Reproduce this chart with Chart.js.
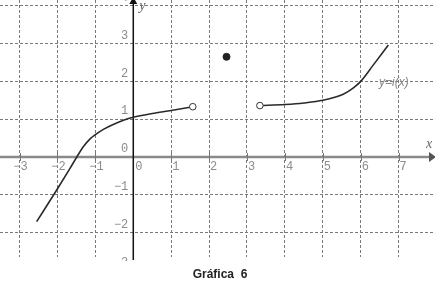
<!DOCTYPE html>
<html>
<head>
<meta charset="utf-8">
<script src="https://cdn.jsdelivr.net/npm/chart.js@4.4.0/dist/chart.umd.min.js"></script>
<style>
html,body{margin:0;padding:0;background:#fff;}
canvas{display:block;}
</style>
</head>
<body>
<canvas id="c" width="435" height="291"></canvas>
<script>
// ---- data ----
const leftX  = [-2.55, -2.0, -1.67, -1.49, -1.32, -1.14, -1.0, -0.79, -0.53, -0.26, 0, 0.5, 1.0, 1.57];
const leftY  = [-1.71, -0.84, -0.3, 0, 0.27, 0.48, 0.59, 0.73, 0.86, 0.97, 1.05, 1.15, 1.23, 1.33];
const rightX = [3.34, 4.0, 4.5, 5.0, 5.54, 5.8, 6.0, 6.33, 6.73];
const rightY = [1.36, 1.39, 1.43, 1.5, 1.66, 1.82, 2.0, 2.43, 2.96];
const openX  = [1.57, 3.34];
const openY  = [1.33, 1.36];
const solidX = [2.46];
const solidY = [2.65];
const xTicks = [-3, -2, -1, 0, 1, 2, 3, 4, 5, 6, 7];
const yTicks = [-3, -2, -1, 0, 1, 2, 3, 4];
const xTickLabels = ['−3', '−2', '−1', '0', '1', '2', '3', '4', '5', '6', '7'];
const yTickLabels = ['−3', '−2', '−1', '0', '1', '2', '3', '4'];
const curveLabel = 'y=i(x)';
const titleText = 'Gráfica  6';

const pts = (xs, ys) => xs.map((x, i) => ({x: x, y: ys[i]}));

const axesPlugin = {
  id: 'axesPlugin',
  beforeDatasetsDraw(chart) {
    const ctx = chart.ctx, xs = chart.scales.x, ys = chart.scales.y;
    const x0 = xs.getPixelForValue(0), y0 = ys.getPixelForValue(0);
    ctx.save();
    // x axis (gray, thick)
    ctx.strokeStyle = '#8a8a8a';
    ctx.lineWidth = 2.5;
    ctx.beginPath(); ctx.moveTo(0, y0); ctx.lineTo(430, y0); ctx.stroke();
    ctx.fillStyle = '#555';
    ctx.beginPath(); ctx.moveTo(429, y0 - 5); ctx.lineTo(436, y0); ctx.lineTo(429, y0 + 5); ctx.closePath(); ctx.fill();
    // tick marks
    ctx.lineWidth = 1;
    ctx.strokeStyle = '#777';
    xTicks.forEach(v => {
      if (v === 0) return;
      const px = Math.round(xs.getPixelForValue(v)) + 0.5;
      ctx.beginPath(); ctx.moveTo(px, y0 - 4); ctx.lineTo(px, y0 + 4); ctx.stroke();
    });
    // y axis (black)
    ctx.strokeStyle = '#111';
    ctx.lineWidth = 1.5;
    ctx.beginPath(); ctx.moveTo(x0, 2); ctx.lineTo(x0, 260); ctx.stroke();
    ctx.fillStyle = '#111';
    ctx.beginPath(); ctx.moveTo(x0 - 4, 4); ctx.lineTo(x0, -3); ctx.lineTo(x0 + 4, 4); ctx.closePath(); ctx.fill();
    ctx.restore();
  },
  afterDraw(chart) {
    const ctx = chart.ctx, xs = chart.scales.x, ys = chart.scales.y;
    const x0 = xs.getPixelForValue(0), y0 = ys.getPixelForValue(0);
    ctx.save();
    ctx.font = '12px "Liberation Mono", "DejaVu Sans Mono", monospace';
    ctx.fillStyle = '#8c8c8c';
    ctx.textBaseline = 'middle';
    // x tick labels
    const minusW = ctx.measureText('−').width;
    xTicks.forEach((v, i) => {
      const px = xs.getPixelForValue(v);
      const lab = xTickLabels[i];
      ctx.textAlign = 'left';
      if (v < 0) ctx.fillText(lab, px - minusW + 1, y0 + 10);
      else if (v === 0) ctx.fillText(lab, px + 2, y0 + 10);
      else ctx.fillText(lab, px + 1, y0 + 10);
    });
    // y tick labels (clipped at the bottom like the picture)
    ctx.save();
    ctx.beginPath(); ctx.rect(0, 0, 435, 261); ctx.clip();
    ctx.textAlign = 'right';
    yTicks.forEach((v, i) => {
      const py = ys.getPixelForValue(v);
      ctx.fillText(yTickLabels[i], x0 - 5, py - 8);
    });
    ctx.restore();
    // axis names
    ctx.font = 'italic 14px "Liberation Serif", serif';
    ctx.fillStyle = '#666';
    ctx.textAlign = 'left';
    ctx.fillText('y', x0 + 6, 6);
    ctx.fillText('x', 426, y0 - 13);
    // curve label
    ctx.font = 'italic 12px "Liberation Sans", Arial, sans-serif';
    ctx.fillStyle = '#888';
    ctx.fillText(curveLabel, 379, ys.getPixelForValue(2) + 1.5);
    // title
    ctx.font = 'bold 12px "Liberation Sans", Arial, sans-serif';
    ctx.fillStyle = '#222';
    ctx.textAlign = 'center';
    ctx.fillText(titleText, 220, 275);
    ctx.restore();
  }
};

const gridOpts = { color: '#7a7a7a', lineWidth: 1, drawTicks: false };
const inRange = (s, arr) => arr.filter(v => v !== 0 && v >= s.min && v <= s.max).map(v => ({value: v}));

new Chart(document.getElementById('c'), {
  type: 'scatter',
  data: {
    datasets: [
      { data: pts(leftX, leftY), showLine: true, borderColor: '#2a2a2a', borderWidth: 1.6,
        pointRadius: 0, cubicInterpolationMode: 'monotone', order: 3 },
      { data: pts(rightX, rightY), showLine: true, borderColor: '#2a2a2a', borderWidth: 1.6,
        pointRadius: 0, cubicInterpolationMode: 'monotone', order: 3 },
      { data: pts(openX, openY), showLine: false, pointRadius: 3.3, pointBackgroundColor: '#fff',
        pointBorderColor: '#333', pointBorderWidth: 1, order: 1 },
      { data: pts(solidX, solidY), showLine: false, pointRadius: 3.5, pointBackgroundColor: '#222',
        pointBorderColor: '#222', pointBorderWidth: 1, order: 1 }
    ]
  },
  options: {
    responsive: false,
    animation: false,
    devicePixelRatio: 1,
    layout: { autoPadding: false, padding: { left: 0, right: 0, top: 0, bottom: 34 } },
    plugins: { legend: { display: false }, tooltip: { enabled: false }, title: { display: false } },
    scales: {
      x: {
        type: 'linear', min: -3.517, max: 7.961,
        afterBuildTicks: s => { s.ticks = inRange(s, xTicks); },
        ticks: { display: false },
        grid: gridOpts,
        border: { display: false, dash: [3, 2] }
      },
      y: {
        type: 'linear', min: -2.646, max: 4.153,
        afterBuildTicks: s => { s.ticks = inRange(s, yTicks); },
        ticks: { display: false },
        grid: gridOpts,
        border: { display: false, dash: [3, 2] }
      }
    }
  },
  plugins: [axesPlugin]
});
</script>
</body>
</html>
